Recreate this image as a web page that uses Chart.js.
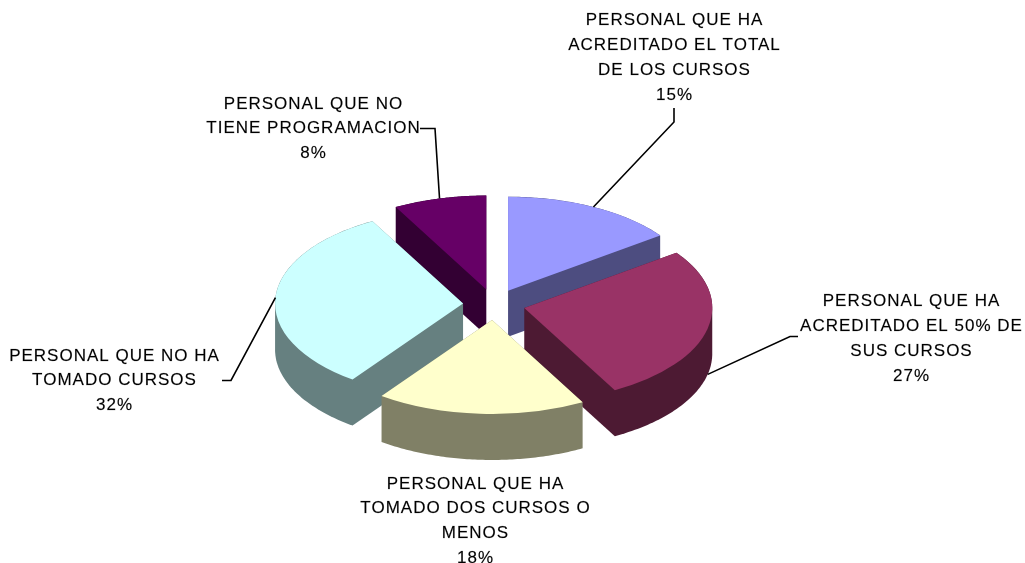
<!DOCTYPE html>
<html lang="es">
<head>
    <meta charset="UTF-8">
    <title>Personal y cursos</title>
    <script src="https://cdn.jsdelivr.net/npm/chart.js"></script>
    <style>
        html, body {
            margin: 0;
            padding: 0;
            background: #fff;
            overflow: hidden;
        }
        canvas { display: block; }
    </style>
</head>
<body>
    <canvas id="pieChart" width="1025" height="563"></canvas>

    <script>
        // categories (already split into the lines they are printed on)
        const categories = [
            ['PERSONAL QUE HA', 'ACREDITADO EL TOTAL', 'DE LOS CURSOS'],
            ['PERSONAL QUE HA', 'ACREDITADO EL 50% DE', 'SUS CURSOS'],
            ['PERSONAL QUE HA', 'TOMADO DOS CURSOS O', 'MENOS'],
            ['PERSONAL QUE NO HA', 'TOMADO CURSOS'],
            ['PERSONAL QUE NO', 'TIENE PROGRAMACION']
        ];
        const shares = [15, 27, 18, 32, 8];

        const topColors = ['#9999FF', '#993366', '#FFFFCC', '#CCFFFF', '#660066'];
        const sideColors = ['#4D4D80', '#4D1A33', '#808066', '#668080', '#330033'];

        // 3d look
        const RADIUS = 188;
        const TILT = 0.5;      // vertical squash of the pie
        const DEPTH = 46;      // wall height in px
        const EXPLODE = 31;    // how far each slice is pulled out

        // label placement: centre x / first line y, and leader line start + elbow
        const labelBoxes = [[674, 20.5], [911, 301.5], [475, 484], [114, 356], [313, 104]];
        const leaderPaths = [
            [[674, 108], [674, 122]],
            [[798, 336.5], [790, 336.5]],
            null,
            [[222, 380.5], [231, 380.5]],
            [[420, 128.5], [435, 128.5]]
        ];
        const leaderDrop = [0, 1, 0, 0, 0]; // 1 = leader ends at the bottom of the wall
        const LINE_H = 24.8;

        function sliceShift(arc) {
            const mid = (arc.startAngle + arc.endAngle) / 2;
            return [Math.cos(mid) * EXPLODE, Math.sin(mid) * EXPLODE, mid];
        }

        // monotone chain convex hull
        function hull(pts) {
            pts = pts.slice().sort((p, q) => p[0] - q[0] || p[1] - q[1]);
            const cross = (o, a, b) => (a[0] - o[0]) * (b[1] - o[1]) - (a[1] - o[1]) * (b[0] - o[0]);
            const lower = [], upper = [];
            for (const p of pts) {
                while (lower.length >= 2 && cross(lower[lower.length - 2], lower[lower.length - 1], p) <= 0) lower.pop();
                lower.push(p);
            }
            for (let i = pts.length - 1; i >= 0; i--) {
                const p = pts[i];
                while (upper.length >= 2 && cross(upper[upper.length - 2], upper[upper.length - 1], p) <= 0) upper.pop();
                upper.push(p);
            }
            upper.pop();
            lower.pop();
            return lower.concat(upper);
        }

        // outline of the extruded slice, in screen pixels
        function wallShape(a) {
            const [dx, dy] = sliceShift(a);
            const ox = a.x + dx, oy = a.y + TILT * dy;
            const pts = [[ox, oy], [ox, oy + DEPTH]];
            const n = 80;
            for (let k = 0; k <= n; k++) {
                const t = a.startAngle + (a.endAngle - a.startAngle) * k / n;
                const px = ox + Math.cos(t) * a.outerRadius;
                const py = oy + TILT * Math.sin(t) * a.outerRadius;
                pts.push([px, py], [px, py + DEPTH]);
            }
            return hull(pts);
        }

        const pie3d = {
            id: 'pie3d',
            beforeDatasetsDraw(chart) {
                const ctx = chart.ctx;
                const arcs = chart.getDatasetMeta(0).data;
                const cx = arcs[0].x, cy = arcs[0].y;
                const order = arcs.map((a, i) => i)
                    .sort((i, j) => sliceShift(arcs[i])[1] - sliceShift(arcs[j])[1]);

                order.forEach(i => {
                    const a = arcs[i];
                    const [dx, dy] = sliceShift(a);

                    // walls
                    const shape = wallShape(a);
                    ctx.beginPath();
                    shape.forEach((p, k) => k ? ctx.lineTo(p[0], p[1]) : ctx.moveTo(p[0], p[1]));
                    ctx.closePath();
                    ctx.fillStyle = sideColors[i];
                    ctx.fill();

                    // top face, squashed
                    ctx.save();
                    ctx.translate(cx, cy);
                    ctx.scale(1, TILT);
                    ctx.translate(-cx, -cy);
                    ctx.translate(dx, dy);
                    a.draw(ctx);
                    ctx.restore();
                });
                return false;
            },
            afterDraw(chart) {
                const ctx = chart.ctx;
                const arcs = chart.getDatasetMeta(0).data;

                // leader lines
                ctx.save();
                ctx.strokeStyle = '#000';
                ctx.lineWidth = 1.6;
                arcs.forEach((a, i) => {
                    const path = leaderPaths[i];
                    if (!path) return;
                    const [dx, dy, mid] = sliceShift(a);
                    const ex = a.x + dx + Math.cos(mid) * a.outerRadius;
                    const ey = a.y + TILT * (dy + Math.sin(mid) * a.outerRadius) + leaderDrop[i] * DEPTH;
                    ctx.beginPath();
                    ctx.moveTo(path[0][0], path[0][1]);
                    ctx.lineTo(path[1][0], path[1][1]);
                    ctx.lineTo(ex, ey);
                    ctx.stroke();
                });
                ctx.restore();

                // labels
                ctx.save();
                ctx.font = '17px "Liberation Sans", Arial, sans-serif';
                ctx.letterSpacing = '1px';
                ctx.fillStyle = '#000';
                ctx.strokeStyle = 'rgba(0,0,0,0.35)';
                ctx.lineWidth = 0.4;
                ctx.textAlign = 'center';
                ctx.textBaseline = 'middle';
                const labels = chart.data.labels;
                const values = chart.data.datasets[0].data;
                labels.forEach((lines, i) => {
                    const [x, y] = labelBoxes[i];
                    const all = lines.concat([values[i] + '%']);
                    all.forEach((t, k) => {
                        ctx.fillText(t, x + 0.5, y + k * LINE_H);
                        ctx.strokeText(t, x + 0.5, y + k * LINE_H);
                    });
                });
                ctx.restore();
            }
        };

        new Chart(document.getElementById('pieChart'), {
            type: 'pie',
            data: {
                labels: categories,
                datasets: [{
                    data: shares,
                    backgroundColor: topColors,
                    borderWidth: 0,
                    radius: RADIUS
                }]
            },
            options: {
                responsive: false,
                animation: false,
                layout: { padding: { left: 0, right: 37, top: 46, bottom: 0 } },
                plugins: {
                    legend: { display: false },
                    tooltip: { enabled: false }
                }
            },
            plugins: [pie3d]
        });
    </script>
</body>
</html>
